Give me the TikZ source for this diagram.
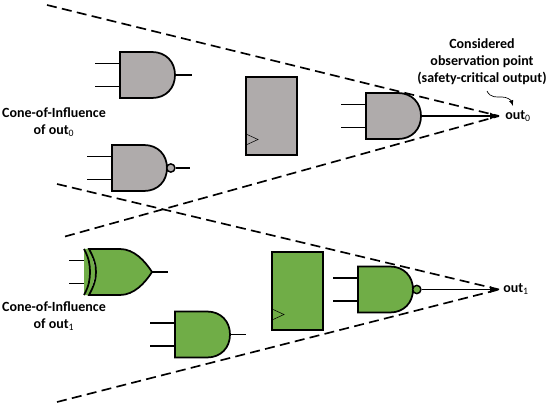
\documentclass[tikz,border=0pt]{standalone}
\usepackage{fontspec}
\setmainfont{Carlito}
\usepackage{xcolor}
\usetikzlibrary{calc, positioning}
\definecolor{conegray}{HTML}{AFABAB}
\definecolor{conegreen}{HTML}{70AD47}
\tikzset{
    wire/.style={line width=1.3pt, line cap=butt},
    body/.style={draw, line width=1.3pt, line join=miter},
    cone/.style={line width=1.25pt, dash pattern=on 7.5pt off 4pt},
    label/.style={font=\bfseries\fontsize{10.5}{12.8}\selectfont, align=center, inner sep=0pt},
    % Cổng AND, gốc của pic nằm giữa cạnh trái
    pics/andgate/.style={code={
        \draw[wire] (-25,-11.5) -- (0,-11.5);
        \draw[wire] (-25,11.5) -- (0,11.5);
        \filldraw[body, fill=#1] (0,-23) -- (32,-23) .. controls (46,-23) and (55,-13) .. (55,0)
            .. controls (55,13) and (46,23) .. (32,23) -- (0,23) -- cycle;
        \coordinate (-out) at (55,0);
    }},
    % Cổng NAND: thêm vòng tròn ở đầu ra
    pics/nandgate/.style={code={
        \pic (-and) at (0,0) {andgate=#1};
        \node[circle, draw, line width=1.1pt, fill=#1, minimum size=6.2pt, inner sep=0pt] (-bubble) at (58.8,0) {};
        \coordinate (-out) at (-bubble.east);
    }},
    % Cổng XOR
    pics/xorgate/.style={code={
        \draw[wire] (-15,-11.5) -- (0,-11.5);
        \draw[wire] (-15,11.5) -- (0,11.5);
        \fill[#1] (0,-23) -- (6,-23) -- (12,0) -- (6,23) -- (0,23) -- cycle;
        \filldraw[body, fill=#1] (5,-23) -- (36,-23) .. controls (50,-23) and (61,-11) .. (68,0)
            .. controls (61,11) and (50,23) .. (36,23) -- (5,23)
            .. controls (10,14) and (12,7) .. (12,0) .. controls (12,-7) and (10,-14) .. (5,-23) -- cycle;
        \draw[body] (0,-23) .. controls (5,-14) and (6,-7) .. (6,0) .. controls (6,7) and (5,14) .. (0,23);
        \coordinate (-out) at (68,0);
    }},
    % Thanh ghi, gốc của pic ở góc trên bên trái
    pics/register/.style={code={
        \filldraw[body, fill=#1] (0,0) rectangle (51,78);
        \draw[line width=0.4pt] (0,57) -- (12,62.5) -- (0,68);
    }},
}

\begin{document}
\begin{tikzpicture}[>=latex, x=0.75pt, y=-0.75pt]
    \useasboundingbox (0,0) rectangle (550,406);

    % 1. Các điểm quan sát và đầu mút của hai hình nón
    \coordinate (apex0) at (499,116);
    \coordinate (apex1) at (499,289.5);
    \coordinate (top0) at (47,5);
    \coordinate (low0) at (65,236.5);
    \coordinate (top1) at (57,184);
    \coordinate (low1) at (57,402);

    % 2. Các đường nét đứt
    \draw[cone] (top0) -- (apex0);
    \draw[cone] (low0) -- (apex0);
    \draw[cone] (top1) -- (apex1);
    \draw[cone] (low1) -- (apex1);

    % 3. Nhóm cổng màu xám
    \pic (and0) at (120,75) {andgate=conegray};
    \pic (nand0) at (112,168) {nandgate=conegray};
    \pic (reg0) at (246,77) {register=conegray};
    \pic (and1) at (366,116) {andgate=conegray};

    % 4. Nhóm cổng màu xanh
    \pic (xor0) at (84,272) {xorgate=conegreen};
    \pic (and2) at (175,334.5) {andgate=conegreen};
    \pic (reg1) at (272,252) {register=conegreen};
    \pic (nand1) at (358,289.5) {nandgate=conegreen};

    % 5. Đầu ra của các cổng
    \coordinate (free0) at (191.5,75);
    \coordinate (free1) at (190,168);
    \coordinate (free2) at (168,272);
    \coordinate (free3) at (246,334.5);
    \draw[wire] (and0-out) -- (free0);
    \draw[wire] (nand0-out) -- (free1);
    \draw[wire] (xor0-out) -- (free2);
    \draw[wire] (and2-out) -- (free3);
    \draw[->, wire] (and1-out) -- (apex0);
    \draw[->, wire] (nand1-out) -- (apex1);

    % 6. Nhãn
    \node[label, anchor=west] (out0) at (505,116) {out\textsubscript{\mdseries 0}};
    \node[label, anchor=west] (out1) at (503,289) {out\textsubscript{\mdseries 1}};
    \node[label] (coi0) at (54,122) {Cone-of-Influence\\of out\textsubscript{\mdseries 0}};
    \node[label] (coi1) at (54,316) {Cone-of-Influence\\of out\textsubscript{\mdseries 1}};
    \node[label] (point) at (482,62) {Considered\\observation point\\(safety-critical output)};

    % 7. Mũi tên lượn sóng
    \coordinate (curl0) at (487,91);
    \coordinate (curl1) at (513,106);
    \draw[->, line width=0.5pt] (curl0) .. controls (490,98) and (497,97) .. (502,97)
        .. controls (507,97) and (511,100) .. (curl1);
\end{tikzpicture}
\end{document}
